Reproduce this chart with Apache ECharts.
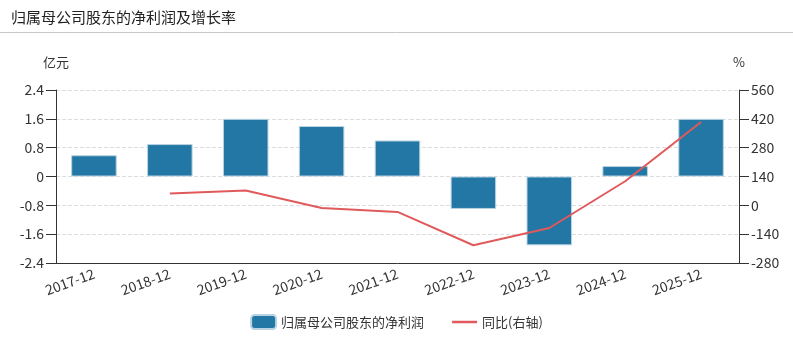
<!DOCTYPE html>
<html>
<head>
<meta charset="utf-8">
<script src="https://cdn.jsdelivr.net/npm/echarts@6/dist/echarts.min.js"></script>
<style>
html,body{margin:0;padding:0;background:#fff;}
#main{width:793px;height:352px;}
</style>
</head>
<body>
<div id="main"></div>
<script>
// 归属母公司股东的净利润及增长率
var categories = ['2017-12','2018-12','2019-12','2020-12','2021-12','2022-12','2023-12','2024-12','2025-12'];
var profitValues = [0.59, 0.9, 1.6, 1.4, 1.0, -0.9, -1.91, 0.29, 1.6];
var growthValues = [null, 57, 72, -13, -32, -194, -110, 117, 405];
var leftTicks = [-2.4, 2.4, 0.8];
var rightTicks = [-280, 560, 140];

var myChart = echarts.init(document.getElementById('main'));
var font = '"Microsoft YaHei","Noto Sans CJK SC",sans-serif';
var option = {
	textStyle: {fontFamily: font},
	title: {
		text: '归属母公司股东的净利润及增长率',
		left: 6,
		top: 5,
		textStyle: {fontSize: 15, fontWeight: 'normal', color: '#222', fontFamily: font}
	},
	graphic: [{
		type: 'line',
		shape: {x1: 0, y1: 32.5, x2: 793, y2: 32.5},
		style: {stroke: '#c8c8c8', lineWidth: 1}
	}],
	legend: {
		bottom: 17,
		itemWidth: 25,
		itemHeight: 14,
		itemGap: 28,
		textStyle: {fontSize: 13, color: '#333'},
		data: [
			{name: '归属母公司股东的净利润', icon: 'roundRect'},
			{name: '同比(右轴)', icon: 'path://M0,0 L25,0 L25,2.5 L0,2.5 Z'}
		]
	},
	grid: {left: 56, right: 54, top: 90, bottom: 89},
	xAxis: {
		type: 'category',
		data: categories,
		axisTick: {alignWithLabel: true, length: 6, lineStyle: {color: '#333'}},
		axisLine: {onZero: false, lineStyle: {color: '#333'}},
		axisLabel: {rotate: 20, fontSize: 14, color: '#333', margin: 10, interval: 0}
	},
	yAxis: [{
		type: 'value',
		name: '亿元',
		nameTextStyle: {color: '#333', fontSize: 13, padding: [0, 0, 6, 0]},
		min: leftTicks[0], max: leftTicks[1], interval: leftTicks[2],
		axisLine: {show: true, lineStyle: {color: '#333'}},
		axisTick: {show: true, length: 10},
		axisLabel: {fontSize: 14, color: '#333', margin: 12},
		splitLine: {lineStyle: {type: 'dashed', color: '#ddd'}}
	}, {
		type: 'value',
		name: '%',
		nameTextStyle: {color: '#333', fontSize: 13, padding: [0, 0, 6, 0]},
		min: rightTicks[0], max: rightTicks[1], interval: rightTicks[2],
		axisLine: {show: true, lineStyle: {color: '#333'}},
		axisTick: {show: true, length: 10},
		axisLabel: {fontSize: 14, color: '#333', margin: 12},
		splitLine: {show: false}
	}],
	series: [{
		name: '归属母公司股东的净利润',
		type: 'bar',
		barWidth: '60%',
		data: profitValues,
		itemStyle: {color: '#2377a4', borderColor: '#b9d3e2', borderWidth: 1}
	}, {
		name: '同比(右轴)',
		type: 'line',
		yAxisIndex: 1,
		symbol: 'none',
		data: growthValues,
		lineStyle: {color: '#e05a5c', width: 2},
		itemStyle: {color: '#e05a5c'}
	}]
};
myChart.setOption(option);
</script>
</body>
</html>
